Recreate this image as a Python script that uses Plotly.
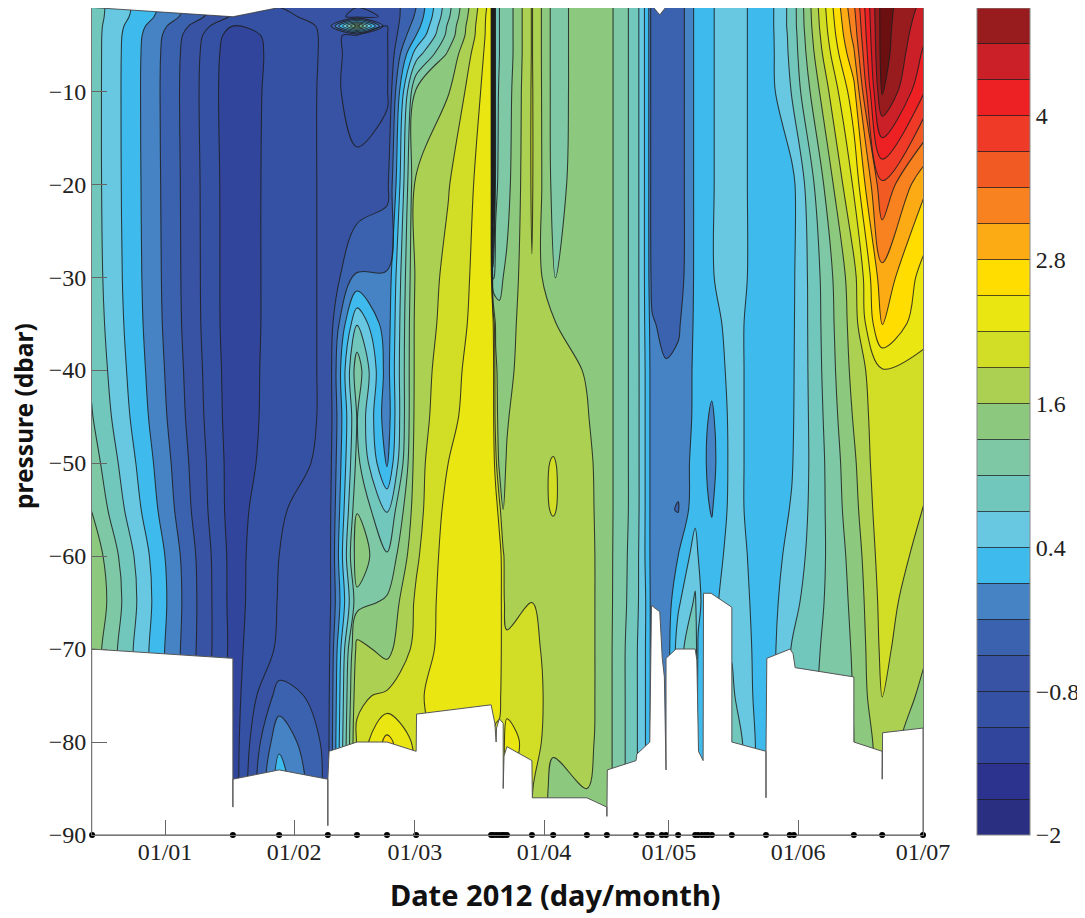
import numpy as np
import pandas as pd
import plotly.graph_objects as go

# pressure rows (dbar)
pressure = [-1, -2, -3, -4, -6, -10, -20, -30, -35, -40, -45, -50, -55, -60, -65, -70, -75, -80, -85, -90]

# profile dates: days after 2012-01-01
profile_days = [-17.6, 16.3, 27.4, 39.1, 46.1, 53.3, 60.3, 68.0, 78.3, 78.8, 79.4, 80.3, 81.2, 82.1, 88.1, 93.2,
                101.3, 106.1, 113.1, 116.0, 117.0, 120.3, 123.2, 127.3, 128.0, 129.7, 131.3, 136.1, 144.3,
                150.5, 165.4, 172.2, 182.2]

# temperature per profile, one list per date, top to bottom
temperature = [
 [.85,.85,.85,.85,.85,.85,.85,.87,.9,.95,1.02,1.15,1.29,1.52,1.6,1.49,1.49,1.49,1.49,1.49],
 [-.75,-.85,-1.12,-1.25,-1.3,-1.32,-1.3,-1.3,-1.3,-1.28,-1.27,-1.25,-1.25,-1.22,-1.22,-1.2,-1.25,-1.28,-1.3,-1.3],
 [-.8,-.85,-.95,-1,-1,-.97,-.97,-.97,-.97,-.97,-.97,-.95,-.82,-.8,-.78,-.75,-.38,.03,.3,.3],
 [-.72,-.72,-.75,-.75,-.75,-.75,-.75,-.75,-.75,-.75,-.75,-.72,-.7,-.7,-.68,-.65,-.62,-.6,-.6,-.6],
 [-.8,-.85,1.5,-.85,-.85,-.86,-.76,-.15,.68,1.2,1.02,1.1,1.28,1.5,1.2,1.7,1.85,1.95,1.95,1.95],
 [-.75,-.78,-.8,-.82,-.84,-.85,-.6,-.17,-.1,-.05,-.1,.05,.68,1.03,1.35,1.5,1.95,2.6,2.6,2.6],
 [-.2,-.15,-.05,.1,.55,1.35,1.65,1.68,1.72,1.72,1.74,1.78,1.78,1.85,1.95,2.0,2.15,2.12,2.1,2.1],
 [.9,.95,1.05,1.1,1.35,1.58,1.88,1.98,2.0,2.08,2.12,2.2,2.3,2.35,2.35,2.35,2.35,2.3,2.3,2.3],
 [2.35,2.38,2.38,2.38,2.38,2.4,2.42,2.42,2.45,2.45,2.45,2.45,2.45,2.45,2.45,2.45,2.42,2.15,2.15,2.15],
 [-1,-1,-1,-1,-1,-1,-1,.9,2.2,2.3,2.3,2.4,2.45,2.45,2.45,2.45,2.4,2.15,2.15,2.15],
 [.85,.85,.85,.85,.85,.85,.9,1.15,1.5,1.7,1.75,2.0,2.4,2.45,2.45,2.45,2.35,2.1,2.1,2.1],
 [1.0,1.0,1.0,1.0,1.0,1.05,1.1,1.25,1.35,1.4,1.45,1.5,2.0,2.4,2.45,2.45,2.3,2.1,2.1,2.1],
 [1.1,1.1,1.1,1.1,1.1,1.1,1.15,1.3,1.4,1.45,1.5,1.55,1.6,1.95,1.95,1.95,2.0,2.15,2.1,2.1],
 [1.1,1.1,1.1,1.1,1.1,1.15,1.2,1.35,1.45,1.5,1.58,1.62,1.68,1.7,1.8,1.97,2.1,2.3,2.2,2.2],
 [1.92,1.92,1.92,1.92,1.92,1.93,1.93,1.89,1.85,1.85,1.82,1.8,1.8,1.75,1.9,2.0,2.1,2.1,1.92,1.92],
 [1.2,1.2,1.2,1.2,1.2,1.2,1.22,1.28,1.62,1.72,1.78,1.92,1.92,1.78,1.76,1.75,1.72,1.65,1.5,1.5],
 [1.42,1.42,1.42,1.42,1.42,1.42,1.42,1.42,1.48,1.58,1.62,1.68,1.7,1.72,1.72,1.72,1.72,1.7,1.6,1.55],
 [1.42,1.42,1.42,1.42,1.42,1.42,1.42,1.42,1.42,1.42,1.42,1.42,1.42,1.42,1.42,1.42,1.42,1.42,1.42,1.42],
 [.85,.85,.85,.85,.85,.85,.85,.85,.85,.85,.85,.85,.85,.82,.8,.75,.75,.75,.75,.75],
 [.2,.2,.2,.2,.2,.2,.2,.2,.22,.25,.25,.25,.25,.25,.3,.3,.3,.3,.3,.3],
 [-.45,-.45,-.45,-.45,-.45,-.45,-.45,-.38,-.15,-.1,-.1,-.1,-.1,-.1,-.1,-.1,-.1,-.1,-.1,-.1],
 [-.45,-.45,-.45,-.45,-.45,-.45,-.45,-.45,-.35,-.15,-.15,-.15,-.15,-.1,-.1,-.1,-.1,-.1,-.1,-.1],
 [-.4,-.4,-.4,-.4,-.4,-.4,-.4,-.38,-.25,-.12,-.1,-.1,-.22,.1,.35,.55,.55,.55,.55,.55],
 [.15,.15,.15,.15,.15,.15,.15,.15,.15,.15,.15,.2,.3,.55,.75,1.0,1.0,1.0,1.0,1.0],
 [.3,.3,.3,.3,.3,.3,.3,.3,.3,.3,.3,.3,.3,.4,.5,.35,.25,.25,.25,.25],
 [.25,.25,.25,.25,.25,.25,.25,.25,.25,.2,.15,.12,.15,.2,.25,.25,.25,.25,.25,.25],
 [.38,.38,.38,.38,.38,.38,.38,.38,.3,.2,.05,.0,.08,.2,.3,.3,.3,.3,.3,.3],
 [.55,.55,.55,.55,.55,.55,.55,.55,.5,.5,.5,.5,.5,.55,.6,.68,.75,.95,.95,.95],
 [.22,.22,.22,.22,.22,.22,.22,.22,.22,.22,.22,.22,.22,.22,.22,.2,.18,.15,.15,.15],
 [.82,.82,.82,.8,.78,.72,.3,.33,.34,.35,.36,.38,.42,.5,.6,.72,.78,.8,.8,.8],
 [3.35,3.3,3.25,3.2,3.05,2.7,2.25,1.8,1.75,1.7,1.63,1.55,1.5,1.42,1.37,1.33,1.31,1.3,1.3,1.3],
 [5.05,5.05,5.05,5.05,5.05,4.95,3.65,3.0,2.85,2.18,2.15,2.15,2.1,2.05,2.0,1.97,1.92,1.75,1.7,1.7],
 [4.5,4.45,4.4,4.35,4.25,4.03,2.87,2.38,2.26,2.15,2.06,1.98,1.89,1.82,1.74,1.65,1.52,1.4,1.4,1.4],
]

# sampling stations on the time axis (days after 2012-01-01)
station_days = [-17.5, 16.3, 27.4, 39.1, 46.1, 53.3, 60.3, 78.3, 78.8, 79.5, 80.2, 80.9, 81.4, 82.1, 88.1, 93.2, 101.3,
                106.1, 113.1, 116.0, 116.9, 119.3, 120.3, 123.2, 127.3, 128.0, 128.9, 129.7, 130.4, 131.3, 136.1,
                144.3, 150.0, 151.0, 165.4, 172.2, 182.0]

# deepest sampled pressure along the time axis, with the short cast whiskers
bottom_days = [-17.6, 16.3, 16.3, 16.3, 27.4, 39.1, 39.1, 39.1, 39.4, 46.1, 53.3, 60.3, 60.4, 78.3, 79.2, 79.5, 79.6,
               80.3, 81.2, 81.2, 81.4, 82.1, 88.1, 88.2, 101.3, 106.1, 106.1, 106.2, 113.1, 113.3, 116.4, 116.8,
               118.8, 119.4, 119.9, 120.3, 120.3, 122.7, 127.3, 127.7, 128.1, 129.2, 129.3, 131.1, 136.1, 136.1,
               144.3, 144.3, 144.3, 144.5, 150.1, 150.8, 151.3, 165.4, 165.4, 172.2, 172.2, 172.2, 172.3, 182.0]
bottom_dbar = [-70, -71, -87, -84, -83, -84, -89, -84, -81, -80, -80, -81, -77, -76, -78, -80, -78.5,
               -77.5, -78, -85, -81.5, -80.5, -82, -86, -86, -87, -88, -83, -82, -81.3, -80, -65.3,
               -66, -71, -73, -83, -71, -70, -70, -71.2, -81, -82, -64, -64, -65.5, -80,
               -81, -86, -81, -71, -70, -70.5, -72, -73, -80, -81, -84, -81, -79, -78.5]

# gaps at the very top of the section
top_gap_days = [[-17.6, 16.3, 27.5], [117.3, 118.8, 120.2]]
top_gap_dbar = [[-1, -2, -1], [-1, -1.8, -1]]

level_start = -2.0
level_step = 0.3
band_colors = ["#2a2f82", "#2c338e", "#31459c", "#3551a3", "#3953a4", "#3b62ae", "#4583c4", "#3fbaed", "#68c8e2",
               "#72c7bc", "#7ec8a6", "#8cc97f", "#abd052", "#d2de26", "#e9e612", "#ffdd00", "#fdab15", "#f7821f",
               "#f15a22", "#ee3a27", "#ed2024", "#cb2027", "#981b1e"]
peak_color = "#6b0f10"
key_levels = [-2, -1.7, -1.4, -1.1, -0.8, -0.5, -0.2, 0.1, 0.4, 0.7, 1.0, 1.3, 1.6, 1.9, 2.2, 2.5, 2.8, 3.1, 3.4,
              3.7, 4.0, 4.3, 4.6, 4.9]
key_labels = ["\u22122", "", "", "", "\u22120.8", "", "", "", "0.4", "", "", "", "1.6", "", "", "", "2.8", "", "", "",
              "4", "", "", ""]
month_ticks = ["2012-01-01", "2012-02-01", "2012-03-01", "2012-04-01", "2012-05-01", "2012-06-01", "2012-07-01"]


def to_date(days):
    return [pd.Timestamp("2012-01-01") + pd.Timedelta(days=float(d)) for d in days]


def even_scale(cols):
    n = len(cols) - 1
    return [[i / n, c] for i, c in enumerate(cols)]


def step_scale(cols):
    n = len(cols)
    out = []
    for i, c in enumerate(cols):
        out += [[i / n, c], [(i + 1) / n, c]]
    return out


z = np.array(temperature).T
line_style = dict(color="rgba(30,30,30,0.85)", width=1.05)
serif = dict(family="Liberation Serif", size=24, color="#222222")

W, H = 1077, 910   # page body keeps an 8 px browser margin

fig = go.Figure()
fig.add_trace(go.Contour(
    x=to_date(profile_days), y=pressure, z=z,
    autocontour=False,
    contours=dict(start=level_start, end=5.21, size=level_step, coloring="fill", showlines=True),
    colorscale=even_scale([band_colors[0]] + band_colors + [peak_color, peak_color]),
    line=line_style, showscale=False, hoverinfo="skip",
))
# colour key only: lies outside the axis range
fig.add_trace(go.Heatmap(
    x=to_date([300, 301]), y=[-50, -40], z=[[key_levels[0], key_levels[-1]], [key_levels[0], key_levels[-1]]],
    zmin=key_levels[0], zmax=key_levels[-1], colorscale=step_scale(band_colors),
    showscale=True, hoverinfo="skip",
    colorbar=dict(x=(977 - 92) / 831, xanchor="left", y=0, yanchor="bottom",
                  thickness=53, thicknessmode="pixels", len=1, lenmode="fraction", xpad=0, ypad=0,
                  outlinecolor="#888888", outlinewidth=1, tickmode="array", tickvals=key_levels, ticktext=key_labels,
                  ticks="inside", ticklen=53, tickwidth=1, tickcolor="rgba(30,30,30,0.75)", tickfont=serif),
))
# blank below the deepest sample
fig.add_trace(go.Scatter(
    x=to_date([-17.6] + bottom_days + [182.0, 182.0, -17.6]), y=[-90] + bottom_dbar + [-90, -90, -90],
    mode="lines", fill="toself", fillcolor="white", line=dict(color="#555555", width=1), hoverinfo="skip", showlegend=False,
))
for gx, gy in zip(top_gap_days, top_gap_dbar):
    fig.add_trace(go.Scatter(x=to_date(gx), y=gy, mode="lines", fill="toself", fillcolor="white",
                             line=dict(color="#333333", width=0.8), hoverinfo="skip", showlegend=False))
fig.add_trace(go.Scatter(
    x=to_date(station_days), y=[-90] * len(station_days), mode="markers", cliponaxis=False,
    marker=dict(color="black", size=6), hoverinfo="skip", showlegend=False,
))

axis_common = dict(showgrid=False, zeroline=False, showline=True, linecolor="#777777", linewidth=1, mirror=True,
                   ticks="inside", ticklen=15, tickcolor="#666666", tickwidth=1, tickfont=serif)
fig.update_layout(
    width=W, height=H, margin=dict(l=84, r=162, t=0, b=83, autoexpand=False),
    paper_bgcolor="white", plot_bgcolor="white", showlegend=False,
    xaxis=dict(type="date", range=[to_date([-17.53])[0], to_date([182])[0]], tickvals=month_ticks, tickformat="%d/%m",
               ticklabelstandoff=-5, **axis_common),
    yaxis=dict(range=[-90, -1.06], tickvals=[-90, -80, -70, -60, -50, -40, -30, -20, -10], **axis_common),
    annotations=[
        dict(text="<b>Date 2012 (day/month)</b>", xref="paper", yref="paper", x=(555 - 92) / 831, y=-(894 - 835) / 827,
             xanchor="center", yanchor="middle", showarrow=False, font=dict(family="Noto Sans", size=29, color="#111111")),
        dict(text="<b>pressure (dbar)</b>", xref="paper", yref="paper", x=-(92 - 24) / 831, y=(835 - 416) / 827,
             xanchor="center", yanchor="middle", textangle=-90, showarrow=False,
             font=dict(family="Noto Sans", size=24.5, color="#111111")),
    ],
)
fig.write_html("out.html")
